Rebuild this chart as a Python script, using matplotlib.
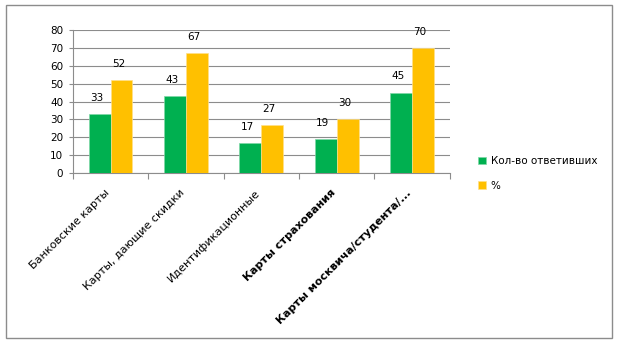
import numpy as np
import matplotlib.pyplot as plt
from matplotlib.patches import Rectangle

categories = ["Банковские карты", "Карты, дающие скидки", "Идентификационные",
              "Карты страхования", "Карты москвича/студента/..."]
answered = [33, 43, 17, 19, 45]
percent = [52, 67, 27, 30, 70]
series_names = ["Кол-во ответивших", "%"]

GREEN = "#00B050"
YELLOW = "#FFC000"

fig = plt.figure(figsize=(6.17, 3.62), dpi=100)
# outer chart frame
fig.patches.append(Rectangle((0.009, 0.066), 0.983, 0.92, transform=fig.transFigure,
                             fill=False, edgecolor="#8c8c8c", lw=1.0))

ax = fig.add_axes([0.118, 0.522, 0.611, 0.395])
x = np.arange(len(categories))
w = 0.29
b1 = ax.bar(x - w / 2, answered, w, color=GREEN, edgecolor="#7fd8a7", lw=0.5,
            label=series_names[0], zorder=3)
b2 = ax.bar(x + w / 2, percent, w, color=YELLOW, edgecolor="#ffe08a", lw=0.5,
            label=series_names[1], zorder=3)

for bars, vals in ((b1, answered), (b2, percent)):
    for r, v in zip(bars, vals):
        ax.annotate(str(v), (r.get_x() + r.get_width() / 2 - 0.04, v),
                    xytext=(0, 8), textcoords="offset points",
                    ha="center", va="bottom", fontsize=7.5)

ax.set_xlim(-0.5, len(categories) - 0.5)
ax.set_ylim(0, 80)
ax.set_yticks(range(0, 81, 10))
ax.yaxis.grid(True, color="#8c8c8c", lw=0.8, zorder=0)
ax.tick_params(axis="y", labelsize=7.5, length=3, color="#8c8c8c", pad=4)

ax.set_xticks(np.arange(-0.5, len(categories), 1.0), minor=False)
ax.set_xticklabels([])
ax.tick_params(axis="x", length=4, color="#8c8c8c")
for i, lab in enumerate(categories):
    bold = i >= 3
    ax.text(i - 0.04, -10, lab, rotation=45, rotation_mode="anchor",
            ha="right", va="center", fontsize=8,
            fontweight="bold" if bold else "normal")

for s in ("top", "right"):
    ax.spines[s].set_visible(False)
ax.spines["left"].set_color("#8c8c8c")
ax.spines["bottom"].set_color("#8c8c8c")

fig.legend(handles=[b1, b2], labels=series_names, loc="upper left",
           bbox_to_anchor=(0.76, 0.595), frameon=False, fontsize=7.5,
           handlelength=0.7, handleheight=0.7, labelspacing=1.4,
           handletextpad=0.5)

fig.savefig("out.png", dpi=100)
